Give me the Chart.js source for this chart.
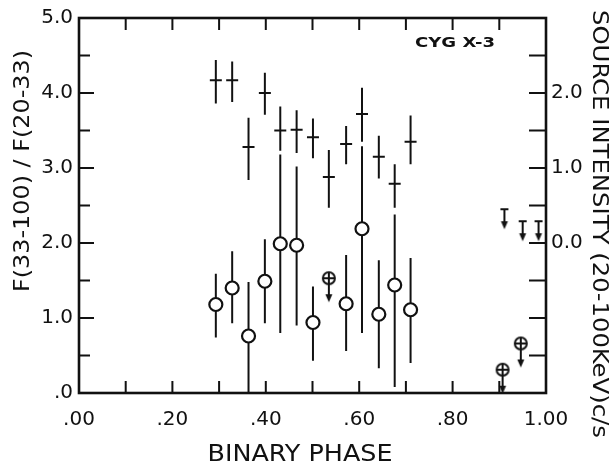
<!DOCTYPE html>
<html>
<head>
<meta charset="utf-8">
<script src="https://cdn.jsdelivr.net/npm/chart.js@4.4.1/dist/chart.umd.min.js"></script>
<style>
  html, body { margin: 0; padding: 0; background: #fff; }
  #wrap { width: 613px; height: 466px; position: relative; }
</style>
</head>
<body>
<div id="wrap"><canvas id="chart"></canvas></div>
<script>
// hardness ratio F(33-100)/F(20-33)  (left axis, circles)
const ratioPhase = [0.293, 0.328, 0.363, 0.398, 0.431, 0.466, 0.501, 0.572, 0.606, 0.642, 0.676, 0.710];
const ratioValue = [1.18, 1.40, 0.76, 1.49, 1.99, 1.97, 0.94, 1.19, 2.19, 1.05, 1.44, 1.11];
const ratioHigh  = [1.59, 1.89, 1.48, 2.05, 3.18, 3.02, 1.42, 1.84, 3.29, 1.77, 2.38, 1.80];
const ratioLow   = [0.74, 0.93, 0.00, 0.93, 0.80, 0.90, 0.43, 0.56, 0.80, 0.33, 0.08, 0.40];

// hardness ratio upper limits
const ratioLimitPhase = [0.535, 0.907, 0.946];
const ratioLimitValue = [1.53, 0.31, 0.66];

// source intensity 20-100 keV c/s  (right axis, crosses)
const fluxPhase = [0.293, 0.328, 0.363, 0.398, 0.431, 0.466, 0.501, 0.535, 0.572, 0.606, 0.642, 0.676, 0.710];
const fluxValue = [2.17, 2.17, 1.28, 2.00, 1.50, 1.51, 1.41, 0.88, 1.32, 1.72, 1.15, 0.79, 1.35];
const fluxHigh  = [2.44, 2.42, 1.67, 2.27, 1.82, 1.77, 1.66, 1.24, 1.56, 2.07, 1.43, 1.05, 1.70];
const fluxLow   = [1.86, 1.88, 0.84, 1.71, 1.23, 1.20, 1.13, 0.47, 1.05, 1.35, 0.86, 0.47, 1.05];

// source intensity upper limits
const fluxLimitPhase = [0.911, 0.950, 0.984];
const fluxLimitValue = [0.45, 0.29, 0.29];

// tick labels
const xLabels = ['.00', '.20', '.40', '.60', '.80', '1.00'];
const yLabels = ['.0', '1.0', '2.0', '3.0', '4.0', '5.0'];
const y2Labels = ['0.0', '1.0', '2.0'];

const ink = '#111';
const tickFont = { family: 'DejaVu Sans', size: 20 };

function points(xs, ys) {
    return xs.map((x, i) => ({ x: x, y: ys[i] }));
}

// circled cross with a downward arrow, circle centre in the middle of the image
function limitCircle() {
    const c = document.createElement('canvas');
    c.width = 18; c.height = 54;
    const g = c.getContext('2d');
    const cx = 9, cy = 27, r = 6;
    g.strokeStyle = ink;
    g.lineWidth = 2;
    g.beginPath();
    g.arc(cx, cy, r, 0, Math.PI * 2);
    g.fillStyle = '#fff';
    g.fill();
    g.stroke();
    g.beginPath();
    g.moveTo(cx - r, cy); g.lineTo(cx + r, cy);
    g.moveTo(cx, cy - r); g.lineTo(cx, cy + 17);
    g.stroke();
    g.fillStyle = ink;
    g.beginPath();
    g.moveTo(cx - 3.5, cy + 16); g.lineTo(cx + 3.5, cy + 16); g.lineTo(cx, cy + 24);
    g.closePath();
    g.fill();
    return c;
}

// bar with a downward arrow, bar at the middle of the image
function limitBar() {
    const c = document.createElement('canvas');
    c.width = 12; c.height = 44;
    const g = c.getContext('2d');
    const cx = 6, cy = 22;
    g.strokeStyle = ink;
    g.lineWidth = 2;
    g.beginPath();
    g.moveTo(cx - 4, cy); g.lineTo(cx + 4, cy);
    g.moveTo(cx, cy); g.lineTo(cx, cy + 14);
    g.stroke();
    g.fillStyle = ink;
    g.beginPath();
    g.moveTo(cx - 3.5, cy + 12); g.lineTo(cx + 3.5, cy + 12); g.lineTo(cx, cy + 20);
    g.closePath();
    g.fill();
    return c;
}

// draw text squeezed/stretched to a given length
function fittedText(ctx, text, cx, cy, angle, length, font) {
    ctx.save();
    ctx.font = font;
    const w = ctx.measureText(text).width;
    ctx.translate(cx, cy);
    ctx.rotate(angle);
    ctx.scale(length / w, 1);
    ctx.textAlign = 'center';
    ctx.textBaseline = 'middle';
    ctx.fillStyle = ink;
    ctx.fillText(text, 0, 0);
    ctx.restore();
}

const frame = {
    id: 'frame',
    beforeDatasetsDraw(chart) {
        const ctx = chart.ctx;
        const a = chart.chartArea;
        const xs = chart.scales.x;
        ctx.save();
        ctx.strokeStyle = ink;

        // error bars
        ctx.lineWidth = 2;
        chart.data.datasets.forEach(ds => {
            if (!ds.errLow) return;
            const ys = chart.scales[ds.yAxisID];
            ds.data.forEach((p, i) => {
                const px = xs.getPixelForValue(p.x);
                ctx.beginPath();
                ctx.moveTo(px, ys.getPixelForValue(ds.errLow[i]));
                ctx.lineTo(px, ys.getPixelForValue(ds.errHigh[i]));
                ctx.stroke();
            });
        });

        // inward tick marks
        ctx.beginPath();
        xs.ticks.forEach(t => {
            if (t.value <= xs.min || t.value >= xs.max) return;
            const px = xs.getPixelForValue(t.value);
            ctx.moveTo(px, a.bottom); ctx.lineTo(px, a.bottom - 12);
            ctx.moveTo(px, a.top); ctx.lineTo(px, a.top + 12);
        });
        const y = chart.scales.y;
        y.ticks.forEach(t => {
            if (t.value <= y.min || t.value >= y.max) return;
            const py = y.getPixelForValue(t.value);
            const len = Math.abs(t.value % 1) < 1e-6 ? 15 : 11;
            ctx.moveTo(a.left, py); ctx.lineTo(a.left + len, py);
        });
        const y2 = chart.scales.y2;
        y2.ticks.forEach(t => {
            if (t.value <= y2.min || t.value >= y2.max) return;
            const py = y2.getPixelForValue(t.value);
            ctx.moveTo(a.right, py); ctx.lineTo(a.right - 17, py);
        });
        ctx.stroke();

        // box
        ctx.lineWidth = 2.6;
        ctx.strokeRect(a.left, a.top, a.right - a.left, a.bottom - a.top);
        ctx.restore();
    },
    afterDraw(chart) {
        const ctx = chart.ctx;
        fittedText(ctx, 'F(33-100) / F(20-33)', 24, 171, -Math.PI / 2, 242, '21px "DejaVu Sans"');
        fittedText(ctx, 'SOURCE INTENSITY (20-100KeV)c/s', 599, 224, Math.PI / 2, 428, '22px "DejaVu Sans"');
        fittedText(ctx, 'BINARY PHASE', 300, 455, 0, 185, '23px "DejaVu Sans"');
        fittedText(ctx, 'CYG X-3', 455, 43, 0, 80, 'bold 14px "DejaVu Sans"');
    }
};

new Chart(document.getElementById('chart'), {
    type: 'scatter',
    data: {
        datasets: [
            {
                label: 'ratio',
                yAxisID: 'y',
                data: points(ratioPhase, ratioValue),
                errLow: ratioLow,
                errHigh: ratioHigh,
                pointStyle: 'circle',
                pointRadius: 6.5,
                borderWidth: 2.2,
                borderColor: ink,
                backgroundColor: '#fff'
            },
            {
                label: 'ratio limit',
                yAxisID: 'y',
                data: points(ratioLimitPhase, ratioLimitValue),
                pointStyle: limitCircle(),
                pointRadius: 6
            },
            {
                label: 'intensity',
                yAxisID: 'y2',
                data: points(fluxPhase, fluxValue),
                errLow: fluxLow,
                errHigh: fluxHigh,
                pointStyle: 'line',
                pointRadius: 6,
                borderWidth: 2,
                borderColor: ink
            },
            {
                label: 'intensity limit',
                yAxisID: 'y2',
                data: points(fluxLimitPhase, fluxLimitValue),
                pointStyle: limitBar(),
                pointRadius: 6
            }
        ]
    },
    options: {
        responsive: true,
        maintainAspectRatio: false,
        animation: false,
        layout: { padding: { top: 16, left: 0, right: 0, bottom: 0 } },
        plugins: {
            legend: { display: false },
            tooltip: { enabled: false }
        },
        scales: {
            x: {
                type: 'linear',
                min: 0, max: 1,
                grid: { display: false, drawTicks: false },
                border: { display: false },
                ticks: {
                    stepSize: 0.1,
                    autoSkip: false,
                    maxRotation: 0,
                    padding: 15,
                    color: ink,
                    font: tickFont,
                    callback: v => {
                        const i = Math.round(v * 100);
                        return i % 20 === 0 ? xLabels[i / 20] : '';
                    }
                },
                afterFit: s => { s.height = 73; }
            },
            y: {
                position: 'left',
                min: 0, max: 5,
                grid: { display: false, drawTicks: false },
                border: { display: false },
                ticks: {
                    stepSize: 0.5,
                    autoSkip: false,
                    padding: 6,
                    color: ink,
                    font: tickFont,
                    callback: v => {
                        const i = Math.round(v * 2);
                        return i % 2 === 0 ? yLabels[i / 2] : '';
                    }
                },
                afterFit: s => { s.width = 79; }
            },
            y2: {
                position: 'right',
                min: -2, max: 3,
                grid: { display: false, drawTicks: false },
                border: { display: false },
                ticks: {
                    stepSize: 0.5,
                    autoSkip: false,
                    padding: 5,
                    color: ink,
                    font: tickFont,
                    callback: v => {
                        const i = Math.round(v * 2);
                        return (i % 2 === 0 && i >= 0 && i <= 4) ? y2Labels[i / 2] : '';
                    }
                },
                afterFit: s => { s.width = 67; }
            }
        }
    },
    plugins: [frame]
});
</script>
</body>
</html>
